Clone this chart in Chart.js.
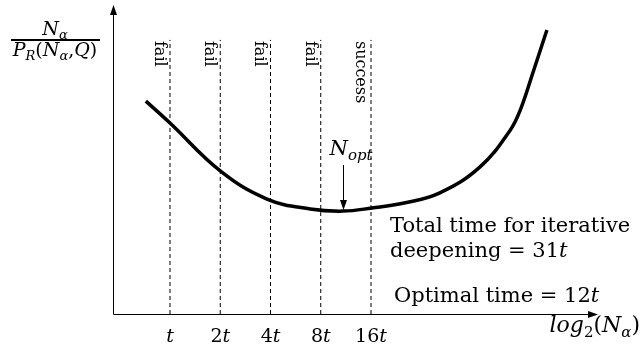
<!DOCTYPE html>
<html>
<head>
<meta charset="utf-8">
<script src="https://cdn.jsdelivr.net/npm/chart.js@4.4.0/dist/chart.umd.min.js"></script>
<style>
  html, body { margin: 0; padding: 0; background: #fff; }
  #wrap { width: 642px; height: 350px; position: relative; }
</style>
</head>
<body>
<div id="wrap"><canvas id="costChart"></canvas></div>
<script>
// x = log2 of the work, counted in doubling steps (0 -> t, 4 -> 16t)
const curveX = [-0.48, 0.0, 1.0, 1.93, 2.79, 3.44, 4.02, 4.66, 5.37, 6.17, 6.77, 6.97, 7.22, 7.50];
const curveY = [68.9, 61.8, 46.3, 37.2, 34.0, 33.3, 34.3, 35.9, 39.2, 47.6, 59.5, 66.0, 78.0, 91.9];

// iterative deepening steps
const stepX = [0, 1, 2, 3, 4];
const stepCoef = ['', '2', '4', '8', '16'];
const stepResults = ['fail', 'fail', 'fail', 'fail', 'success'];
const stepTop = 88.7;

// optimal point
const nOptX = 3.44;
const nOptY = 33.3;
const nOptArrowTop = 48.2;

const FONT = '"DejaVu Serif", serif';

function fontFor(style, size) {
    const sub = style[0] === 's';
    const it = style.endsWith('i');
    return (it ? 'italic ' : '') + Math.round(sub ? size * 0.7 : size) + 'px ' + FONT;
}

function runsWidth(ctx, runs, size) {
    let w = 0;
    for (const [t, s] of runs) {
        ctx.font = fontFor(s, size);
        w += ctx.measureText(t).width;
    }
    return w;
}

// runs: [text, style]  r = roman, i = italic, sr/si = subscript
function drawRuns(ctx, x, y, runs, size, align) {
    const w = runsWidth(ctx, runs, size);
    let cx = align === 'center' ? x - w / 2 : align === 'right' ? x - w : x;
    ctx.textAlign = 'left';
    ctx.textBaseline = 'alphabetic';
    for (const [t, s] of runs) {
        ctx.font = fontFor(s, size);
        ctx.fillText(t, cx, y + (s[0] === 's' ? size * 0.22 : 0));
        cx += ctx.measureText(t).width;
    }
    return w;
}

function arrowHead(ctx, x, y, dir) {
    // dir: 'up', 'right', 'down'
    ctx.beginPath();
    if (dir === 'up') {
        ctx.moveTo(x, y); ctx.lineTo(x - 3.5, y + 10); ctx.lineTo(x + 3.5, y + 10);
    } else if (dir === 'right') {
        ctx.moveTo(x, y); ctx.lineTo(x - 10, y - 3.5); ctx.lineTo(x - 10, y + 3.5);
    } else {
        ctx.moveTo(x, y); ctx.lineTo(x - 3.5, y - 10); ctx.lineTo(x + 3.5, y - 10);
    }
    ctx.closePath();
    ctx.fill();
}

const annotations = {
    id: 'annotations',
    afterDatasetsDraw(chart) {
        const { ctx, chartArea, scales } = chart;
        const xs = scales.x, ys = scales.y;
        ctx.save();
        ctx.fillStyle = '#000';
        ctx.strokeStyle = '#000';

        // axes
        const ox = Math.round(chartArea.left) + 0.5;
        const oy = Math.round(chartArea.bottom) + 0.5;
        ctx.lineWidth = 1;
        ctx.beginPath();
        ctx.moveTo(ox, oy);
        ctx.lineTo(ox, chartArea.top + 4);
        ctx.moveTo(ox, oy);
        ctx.lineTo(chartArea.right - 4, oy);
        ctx.stroke();
        arrowHead(ctx, ox, chartArea.top, 'up');
        arrowHead(ctx, chartArea.right, oy, 'right');

        // tick labels
        stepX.forEach((v, i) => {
            const px = xs.getPixelForValue(v);
            drawRuns(ctx, px, 342, [[stepCoef[i], 'r'], ['t', 'i']], 19, 'center');
        });

        // results of each step, rotated
        stepX.forEach((v, i) => {
            const px = xs.getPixelForValue(v);
            ctx.save();
            ctx.translate(px - 15, ys.getPixelForValue(stepTop) + 1);
            ctx.rotate(Math.PI / 2);
            ctx.font = '16px ' + FONT;
            ctx.textAlign = 'left';
            ctx.textBaseline = 'alphabetic';
            ctx.fillText(stepResults[i], 0, 0);
            ctx.restore();
        });

        // N_opt arrow
        const ax = Math.round(xs.getPixelForValue(nOptX)) + 0.5;
        const aTop = ys.getPixelForValue(nOptArrowTop);
        const aBot = ys.getPixelForValue(nOptY) - 1;
        ctx.beginPath();
        ctx.moveTo(ax, aTop);
        ctx.lineTo(ax, aBot - 6);
        ctx.stroke();
        arrowHead(ctx, ax, aBot, 'down');
        drawRuns(ctx, ax - 14, 155, [['N', 'i'], ['opt', 'si']], 21, 'left');

        // notes
        drawRuns(ctx, 390, 232, [['Total time for iterative', 'r']], 21, 'left');
        drawRuns(ctx, 390, 257, [['deepening = 31', 'r'], ['t', 'i']], 21, 'left');
        drawRuns(ctx, 394, 302, [['Optimal time = 12', 'r'], ['t', 'i']], 21, 'left');

        // x axis title
        drawRuns(ctx, 640, 332, [['log', 'i'], ['2', 'sr'], ['(', 'r'], ['N', 'i'], ['α', 'si'], [')', 'r']], 22, 'right');

        // y axis title as a fraction
        drawRuns(ctx, 55, 35, [['N', 'i'], ['α', 'si']], 19, 'center');
        ctx.fillRect(11, 39, 89, 2);
        drawRuns(ctx, 55, 56, [['P', 'i'], ['R', 'si'], ['(', 'r'], ['N', 'i'], ['α', 'si'], [',', 'r'], ['Q', 'i'], [')', 'r']], 19, 'center');

        ctx.restore();
    }
};

const datasets = [{
    label: 'cost',
    data: curveX.map((x, i) => ({ x: x, y: curveY[i] })),
    borderColor: '#000',
    borderWidth: 3.5,
    pointRadius: 0,
    tension: 0.4,
    fill: false
}];

stepX.forEach((v) => {
    datasets.push({
        label: 'step',
        data: [{ x: v, y: 0 }, { x: v, y: stepTop }],
        borderColor: '#000',
        borderWidth: 1,
        borderDash: [4, 3],
        pointRadius: 0,
        fill: false
    });
});

new Chart(document.getElementById('costChart').getContext('2d'), {
    type: 'line',
    data: { datasets: datasets },
    options: {
        responsive: true,
        maintainAspectRatio: false,
        animation: false,
        layout: { padding: { left: 113, right: 44, top: 5, bottom: 36 } },
        plugins: {
            legend: { display: false },
            tooltip: { enabled: false }
        },
        scales: {
            x: { type: 'linear', min: -1.134, max: 8.517, display: false },
            y: { type: 'linear', min: 0, max: 100, display: false }
        }
    },
    plugins: [annotations]
});
</script>
</body>
</html>
